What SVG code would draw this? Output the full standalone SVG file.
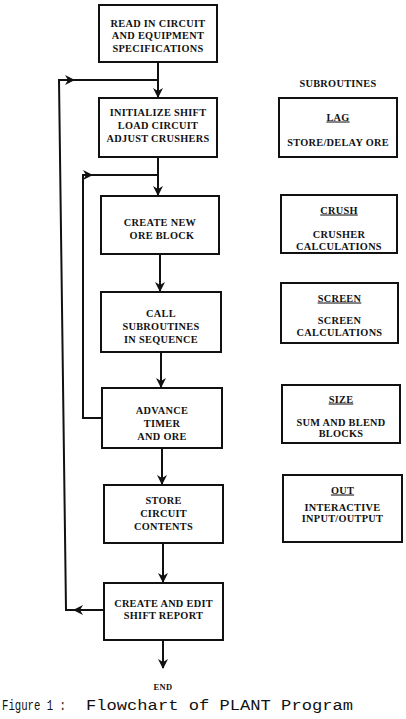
<svg xmlns="http://www.w3.org/2000/svg" width="406" height="719" viewBox="0 0 406 719">
<style>
  .box { fill: #fff; stroke: #111; stroke-width: 2; }
  .t { font-family: "Liberation Serif", "DejaVu Serif", serif; font-weight: bold; font-size: 10.3px; letter-spacing: 0.3px; fill: #111; text-anchor: middle; }
  .u { text-decoration: underline; }
  .ln { fill: none; stroke: #111; stroke-width: 2; }
  .cap { font-family: "Liberation Mono", "Courier New", monospace; font-size: 15.5px; fill: #111; }
</style>
<defs>
  <marker id="ah" viewBox="0 0 10 10" refX="9" refY="5" markerWidth="10" markerHeight="10" markerUnits="userSpaceOnUse" orient="auto">
    <path d="M0,0 L10,5 L0,10 L3,5 z" fill="#111"/>
  </marker>
</defs>
<rect width="406" height="719" fill="#fff"/>

<g id="connectors">
  <path class="ln" d="M158,62 V97" marker-end="url(#ah)"/>
  <path class="ln" d="M158,157 V195" marker-end="url(#ah)"/>
  <path class="ln" d="M160,254 V291" marker-end="url(#ah)"/>
  <path class="ln" d="M161,352 V387" marker-end="url(#ah)"/>
  <path class="ln" d="M162,448 V484" marker-end="url(#ah)"/>
  <path class="ln" d="M163,543 V582" marker-end="url(#ah)"/>
  <path class="ln" d="M163,640 V668" marker-end="url(#ah)"/>
  <!-- outer loop -->
  <path class="ln" d="M104,610 H74" marker-end="url(#ah)"/>
  <path class="ln" d="M75,610 H66 L59,80 H74" marker-end="url(#ah)"/>
  <path class="ln" d="M73,80 H158"/>
  <!-- inner loop -->
  <path class="ln" d="M102,418 H83 V175 H92" marker-end="url(#ah)"/>
  <path class="ln" d="M91,175 H159"/>
</g>

<g id="n1"><rect class="box" x="99" y="5" width="118" height="57"/>
  <text class="t" x="158" y="26.5">READ IN CIRCUIT</text>
  <text class="t" x="158" y="39">AND EQUIPMENT</text>
  <text class="t" x="158" y="51.5">SPECIFICATIONS</text></g>
<g id="n2"><rect class="box" x="99" y="98" width="118" height="59"/>
  <text class="t" x="158" y="116">INITIALIZE SHIFT</text>
  <text class="t" x="158" y="129">LOAD CIRCUIT</text>
  <text class="t" x="158" y="142">ADJUST CRUSHERS</text></g>
<g id="n3"><rect class="box" x="101" y="196" width="118" height="58"/>
  <text class="t" x="160" y="226">CREATE NEW</text>
  <text class="t" x="162" y="239">ORE BLOCK</text></g>
<g id="n4"><rect class="box" x="101" y="292" width="120" height="60"/>
  <text class="t" x="161" y="316.5">CALL</text>
  <text class="t" x="161" y="329.5">SUBROUTINES</text>
  <text class="t" x="161" y="342.5">IN SEQUENCE</text></g>
<g id="n5"><rect class="box" x="102" y="388" width="120" height="60"/>
  <text class="t" x="162" y="414">ADVANCE</text>
  <text class="t" x="162" y="427">TIMER</text>
  <text class="t" x="162" y="440">AND ORE</text></g>
<g id="n6"><rect class="box" x="104" y="485" width="119" height="58"/>
  <text class="t" x="163.5" y="503.5">STORE</text>
  <text class="t" x="163.5" y="516.5">CIRCUIT</text>
  <text class="t" x="163.5" y="529.5">CONTENTS</text></g>
<g id="n7"><rect class="box" x="104" y="583" width="119" height="57"/>
  <text class="t" x="163.5" y="606.5">CREATE AND EDIT</text>
  <text class="t" x="163.5" y="619">SHIFT REPORT</text></g>
<g id="end"><text class="t" x="163" y="690" style="font-size:8.5px">END</text></g>

<g id="sub-title"><text class="t" x="338" y="86.5">SUBROUTINES</text></g>
<g id="s-lag"><rect class="box" x="279" y="98" width="118" height="59"/>
  <text class="t u" x="338" y="120.5">LAG</text>
  <text class="t" x="338" y="145.5">STORE/DELAY ORE</text></g>
<g id="s-crush"><rect class="box" x="281" y="195" width="116" height="58"/>
  <text class="t u" x="339" y="213.5">CRUSH</text>
  <text class="t" x="339" y="238">CRUSHER</text>
  <text class="t" x="339" y="249.5">CALCULATIONS</text></g>
<g id="s-screen"><rect class="box" x="281" y="283" width="117" height="60"/>
  <text class="t u" x="339.5" y="301.5">SCREEN</text>
  <text class="t" x="339.5" y="323.5">SCREEN</text>
  <text class="t" x="339.5" y="335.5">CALCULATIONS</text></g>
<g id="s-size"><rect class="box" x="282" y="385" width="118" height="58"/>
  <text class="t u" x="341" y="402.5">SIZE</text>
  <text class="t" x="341" y="425.5">SUM AND BLEND</text>
  <text class="t" x="341" y="436.5">BLOCKS</text></g>
<g id="s-out"><rect class="box" x="283" y="475" width="119" height="67"/>
  <text class="t u" x="342.5" y="493.5">OUT</text>
  <text class="t" x="342.5" y="510.5">INTERACTIVE</text>
  <text class="t" x="342.5" y="521.5">INPUT/OUTPUT</text></g>

<g id="caption">
  <text class="cap" x="2" y="710" textLength="64" lengthAdjust="spacingAndGlyphs">Figure 1 :</text>
  <text class="cap" x="86" y="710" textLength="267" lengthAdjust="spacingAndGlyphs">Flowchart of PLANT Program</text>
</g>
</svg>
